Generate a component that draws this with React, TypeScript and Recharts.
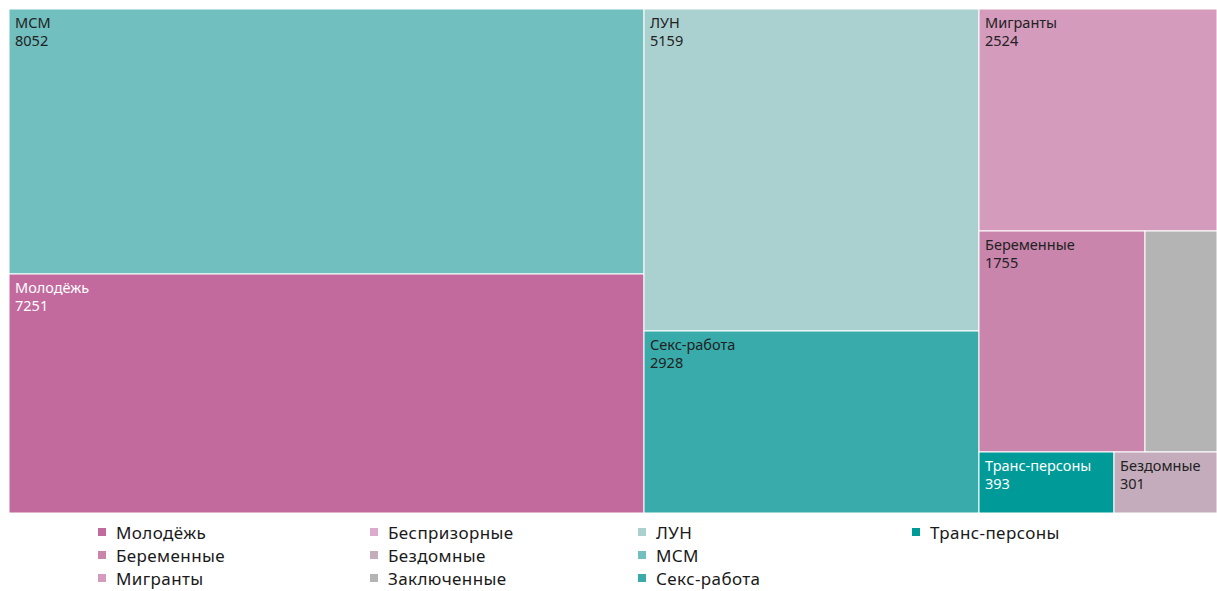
import { Treemap } from "recharts";

const groups = [
  "МСМ",
  "Молодёжь",
  "ЛУН",
  "Секс-работа",
  "Мигранты",
  "Беременные",
  "Заключенные",
  "Транс-персоны",
  "Бездомные",
  "Беспризорные",
];
const counts = [8052, 7251, 5159, 2928, 2524, 1755, 760, 393, 301, 0];

const legendOrder = [
  "Молодёжь",
  "Беременные",
  "Мигранты",
  "Беспризорные",
  "Бездомные",
  "Заключенные",
  "ЛУН",
  "МСМ",
  "Секс-работа",
  "Транс-персоны",
];

const colors: Record<string, string> = {
  "МСМ": "#71bfbf",
  "Молодёжь": "#c2699e",
  "ЛУН": "#aad1d0",
  "Секс-работа": "#38abaa",
  "Мигранты": "#d49bbd",
  "Беременные": "#c985ac",
  "Заключенные": "#b4b4b4",
  "Транс-персоны": "#009a98",
  "Бездомные": "#c4acbc",
  "Беспризорные": "#dcaacb",
};

const whiteText = ["Молодёжь", "Транс-персоны"];

const treeData = groups
  .map((name, i) => ({ name, size: counts[i] }))
  .filter((d) => d.size > 0);

const FONT = "'Noto Sans', 'Open Sans', sans-serif";

if (typeof document !== "undefined") {
  document.documentElement.style.overflow = "hidden";
  document.body.style.margin = "0";
}

function Cell(props: any) {
  const { x, y, width, height, name, value, depth } = props;
  if (depth !== 1) return null;
  const showLabel = width > 90 && height > 40;
  const txt = whiteText.includes(name) ? "#ffffff" : "#222222";
  return (
    <g>
      <rect x={x} y={y} width={width} height={height} fill={colors[name]} stroke="#ffffff" strokeWidth={1} />
      {showLabel && (
        <text x={x + 6} y={y + 19} fill={txt} fontSize={14.5} fontFamily={FONT}>
          {name}
        </text>
      )}
      {showLabel && (
        <text x={x + 6} y={y + 37} fill={txt} fontSize={14.5} fontFamily={FONT}>
          {value}
        </text>
      )}
    </g>
  );
}

export default function App() {
  const cols = [0, 1, 2, 3].map((c) => legendOrder.slice(c * 3, c * 3 + 3));
  const colX = [98, 370, 638, 912];
  return (
    <div style={{ width: 1217, height: 591, overflow: "hidden", position: "relative" }}>
      <div style={{ position: "absolute", left: 9, top: 9, width: 1208, height: 504 }}>
        <Treemap
          width={1208}
          height={504}
          data={treeData}
          dataKey="size"
          nameKey="name"
          isAnimationActive={false}
          content={<Cell />}
        />
      </div>
      {cols.map((col, ci) => (
        <div key={ci} style={{ position: "absolute", left: colX[ci], top: 520.5, fontFamily: FONT, fontSize: 17, color: "#1a1a1a", letterSpacing: 0.4 }}>
          {col.map((name) => (
            <div key={name} style={{ display: "flex", alignItems: "center", height: 23 }}>
              <span style={{ display: "inline-block", width: 8, height: 8, background: colors[name], marginRight: 10 }} />
              <span>{name}</span>
            </div>
          ))}
        </div>
      ))}
    </div>
  );
}
